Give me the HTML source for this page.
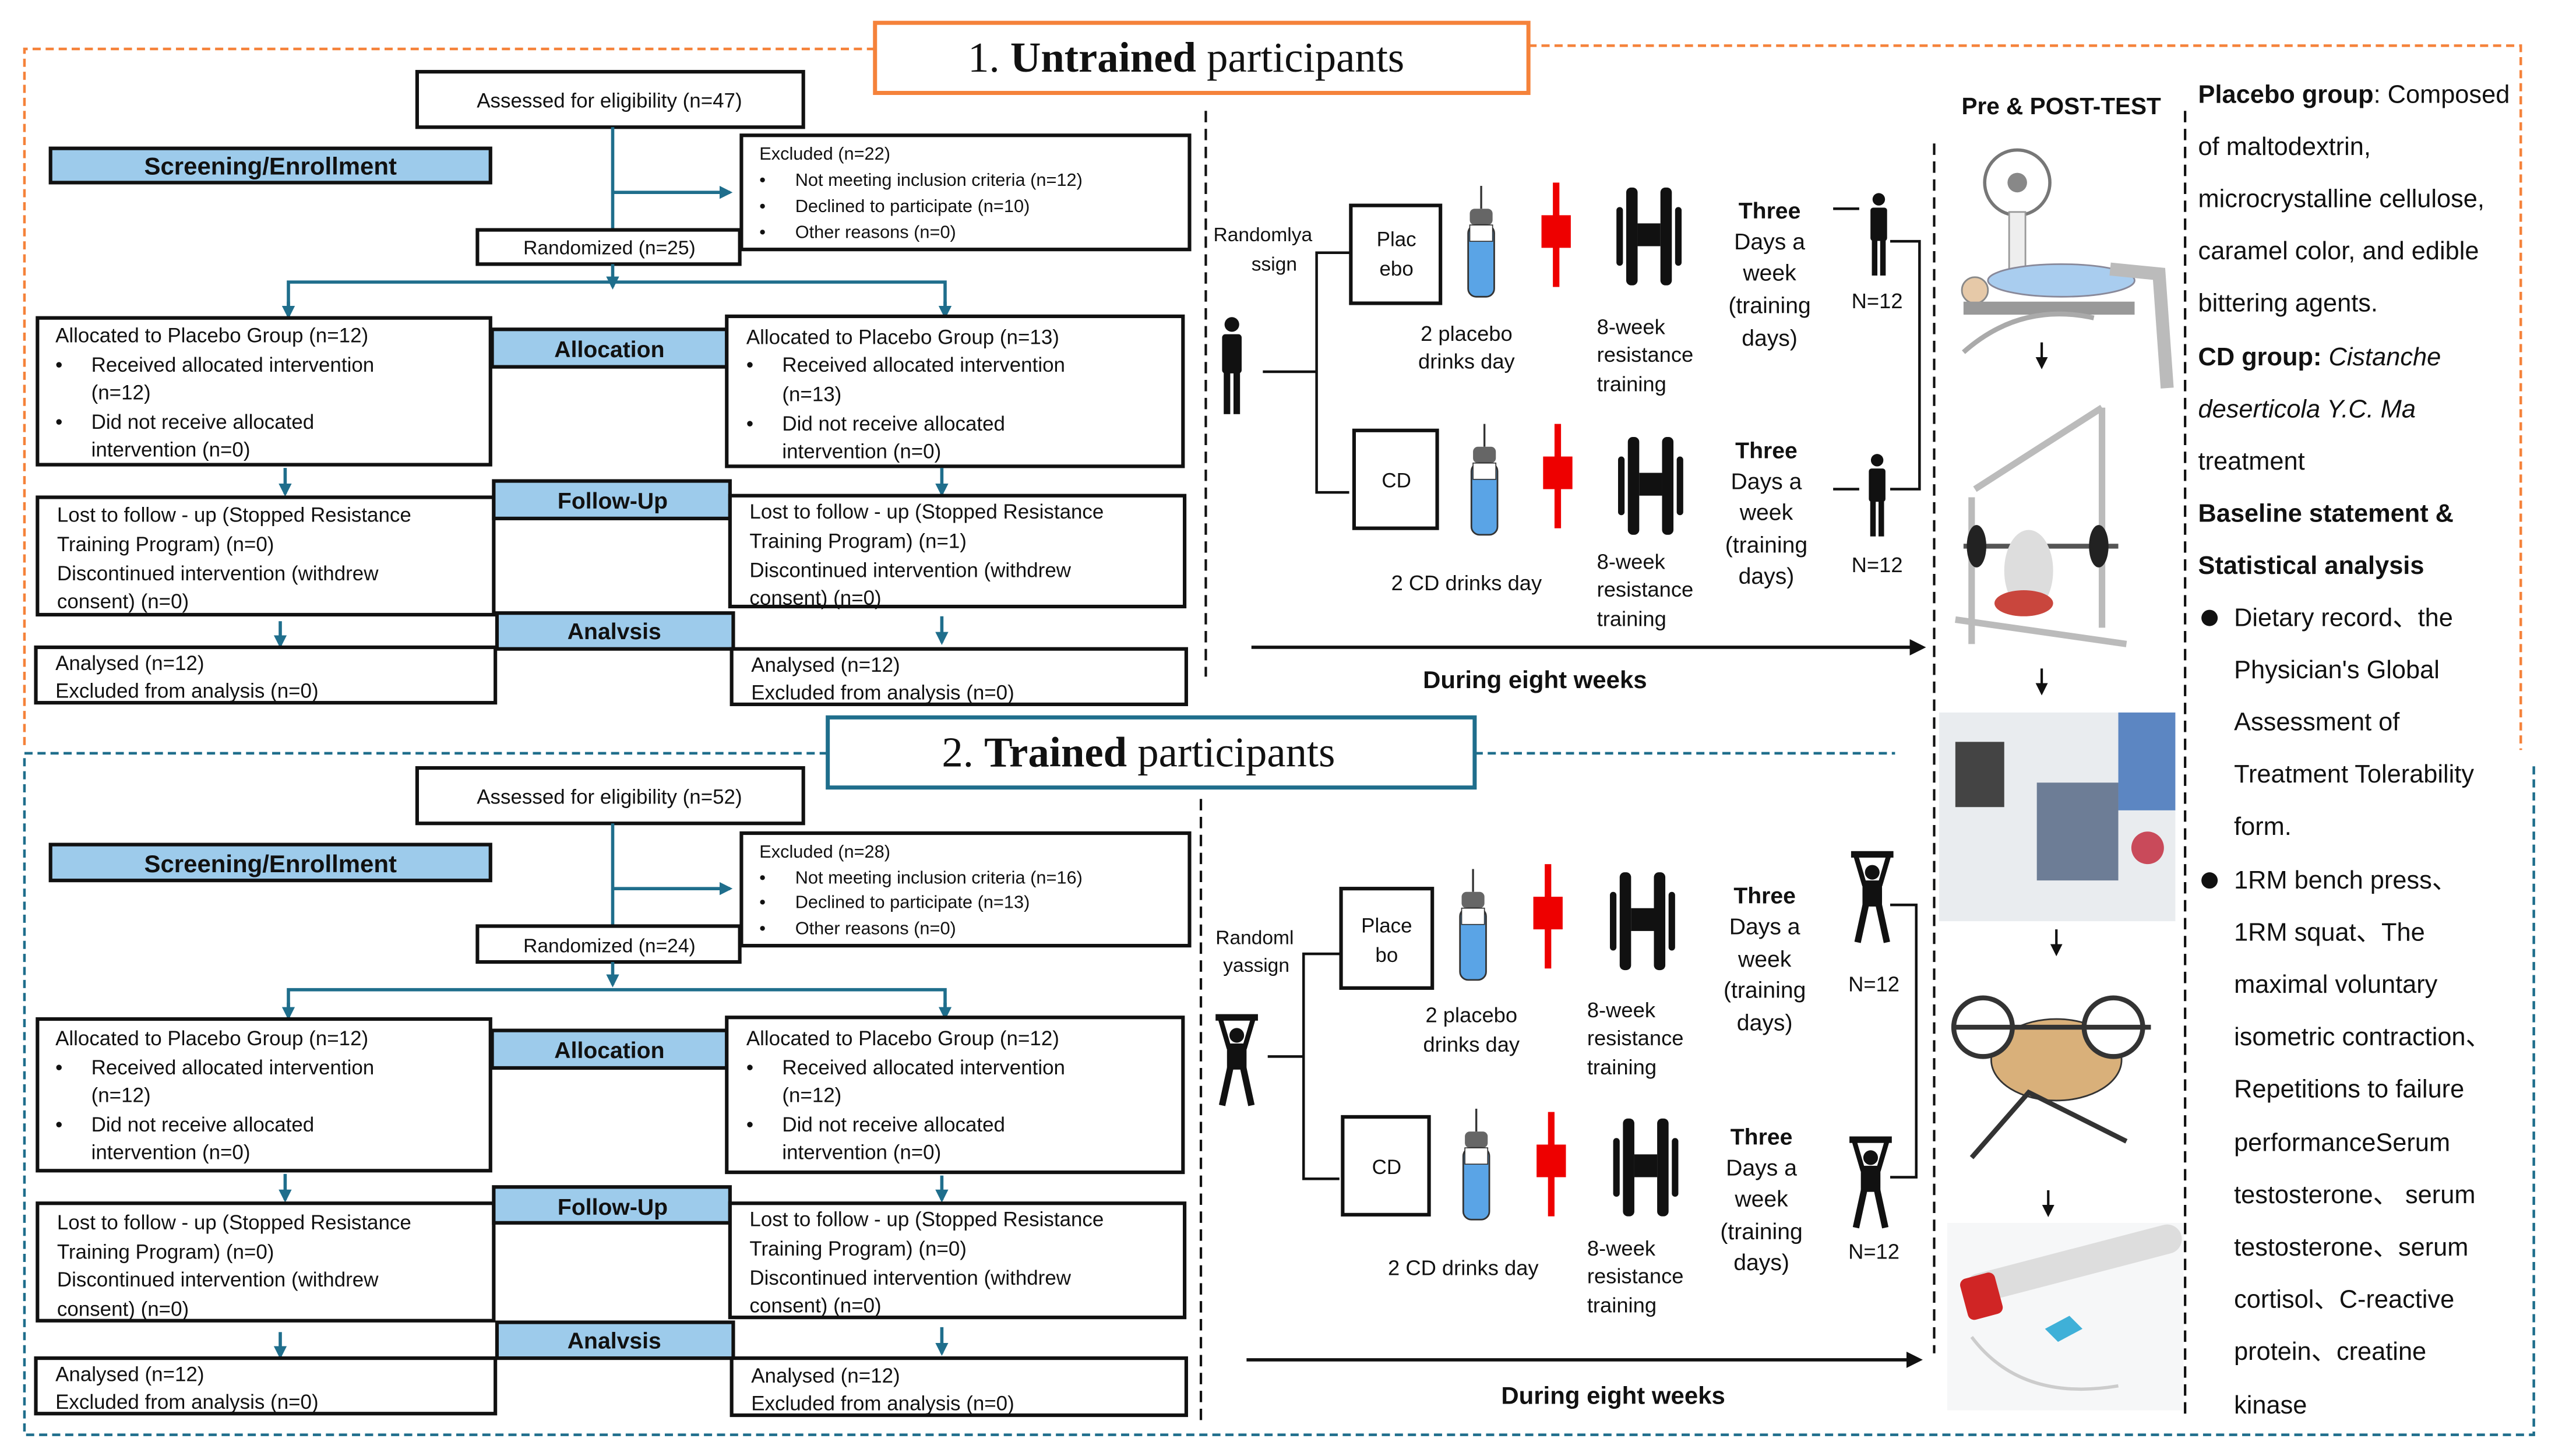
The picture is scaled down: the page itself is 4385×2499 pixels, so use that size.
<!DOCTYPE html>
<html><head><meta charset="utf-8"><style>
html,body{margin:0;padding:0;background:#fff;}
svg{display:block;}
text{font-family:"Liberation Sans Narrow","Liberation Sans",sans-serif;fill:#111;}
.t{font-size:12.5px;}
.b{font-weight:bold;}
.bar{fill:#9dcbeb;stroke:#111;stroke-width:2.2;}
.bx{fill:#fff;stroke:#111;stroke-width:2.2;}
.ln{stroke:#1f6e8c;stroke-width:2;fill:none;}
.k{stroke:#111;stroke-width:1.6;fill:none;}
.cj{font-family:"Liberation Sans","Noto Sans CJK SC",sans-serif;}
</style></head><body>
<svg width="4385" height="2499" viewBox="0 0 1568 893" preserveAspectRatio="none" xmlns="http://www.w3.org/2000/svg">
<defs>
<marker id="a" viewBox="0 0 10 10" refX="8" refY="5" markerWidth="4" markerHeight="4" orient="auto"><path d="M0,0L10,5L0,10z" fill="#1f6e8c"/></marker>
<marker id="ak" viewBox="0 0 10 10" refX="8" refY="5" markerWidth="5" markerHeight="5" orient="auto"><path d="M0,0L10,5L0,10z" fill="#111"/></marker>
<g id="person"><circle cx="0" cy="5" r="4.5" fill="#111"/><rect x="-6" y="11" width="12" height="24" rx="2" fill="#111"/><rect x="-5" y="34" width="4" height="26" fill="#111"/><rect x="1" y="34" width="4" height="26" fill="#111"/></g>
<g id="lifter"><rect x="-13" y="0" width="26" height="4" fill="#111"/><circle cx="0" cy="13" r="4.5" fill="#111"/><path d="M-10,3L-5,20L5,20L10,3" stroke="#111" stroke-width="3" fill="none"/><rect x="-6" y="18" width="12" height="16" fill="#111"/><path d="M-4,33L-9,56M4,33L9,56" stroke="#111" stroke-width="4"/></g>
<g id="bottle"><line x1="11" y1="0" x2="11" y2="14" stroke="#333" stroke-width="1.2"/><rect x="4" y="14" width="14" height="10" rx="3" fill="#666"/><rect x="3" y="24" width="16" height="44" rx="5" fill="#5aa4e6" stroke="#333" stroke-width="1"/><rect x="4" y="24" width="14" height="10" fill="#fff" stroke="#333" stroke-width="0.6"/></g>
<g id="cross"><rect x="-2" y="0" width="4" height="64" fill="#e00"/><rect x="-9" y="20" width="18" height="20" fill="#e00"/></g>
<g id="db"><rect x="0" y="12" width="4" height="36" rx="2" fill="#111"/><rect x="6" y="0" width="7" height="60" rx="3" fill="#111"/><rect x="13" y="22" width="14" height="14" fill="#111"/><rect x="27" y="0" width="7" height="60" rx="3" fill="#111"/><rect x="36" y="12" width="4" height="36" rx="2" fill="#111"/></g>
</defs>

<path d="M537,30H15V460" stroke="#f5823a" stroke-width="1.6" stroke-dasharray="5,3" fill="none"/>
<path d="M938,28H1547V460" stroke="#f5823a" stroke-width="1.6" stroke-dasharray="5,3" fill="none"/>
<rect x="537" y="14" width="401" height="43" fill="#fff" stroke="#f5823a" stroke-width="2.5"/>
<text x="594" y="44" style="font-family:'Liberation Serif',serif;font-size:26px">1.  <tspan font-weight="bold">Untrained</tspan> participants</text>

<path d="M508,462H15V880H1555V470" stroke="#1f6e8c" stroke-width="1.6" stroke-dasharray="5,3" fill="none"/>
<path d="M905,462H1163" stroke="#1f6e8c" stroke-width="1.6" stroke-dasharray="5,3" fill="none"/>
<rect x="508" y="440" width="397" height="43" fill="#fff" stroke="#1f6e8c" stroke-width="2.5"/>
<text x="578" y="470" style="font-family:'Liberation Serif',serif;font-size:26px">2.  <tspan font-weight="bold">Trained</tspan> participants</text>

<!-- TOP FLOW -->
<rect class="bx" x="256" y="44" width="237" height="34"/>
<text class="t" x="374" y="66" text-anchor="middle">Assessed for eligibility (n=47)</text>
<rect class="bar" x="31" y="91" width="270" height="21"/>
<text x="166" y="107" text-anchor="middle" class="b" font-size="15">Screening/Enrollment</text>
<line class="ln" x1="376" y1="78" x2="376" y2="141"/>
<line class="ln" x1="376" y1="118" x2="448" y2="118" marker-end="url(#a)"/>
<rect class="bx" x="455" y="83" width="275" height="70"/>
<g font-size="11">
<text x="466" y="98">Excluded (n=22)</text>
<text x="466" y="114">•</text><text x="488" y="114">Not meeting inclusion criteria (n=12)</text>
<text x="466" y="130">•</text><text x="488" y="130">Declined to participate (n=10)</text>
<text x="466" y="146">•</text><text x="488" y="146">Other reasons (n=0)</text>
</g>
<rect class="bx" x="293" y="141" width="161" height="21"/>
<text x="374" y="156" text-anchor="middle" font-size="12">Randomized (n=25)</text>
<line class="ln" x1="376" y1="162" x2="376" y2="176" marker-end="url(#a)"/>
<path class="ln" d="M177,194V173H580V194"/>
<line class="ln" x1="177" y1="185" x2="177" y2="194" marker-end="url(#a)"/>
<line class="ln" x1="580" y1="185" x2="580" y2="194" marker-end="url(#a)"/>

<rect class="bx" x="23" y="195" width="278" height="90"/>
<text class="t" x="34" y="210">Allocated to Placebo Group (n=12)</text>
<text class="t" x="34" y="228">•</text><text class="t" x="56" y="228">Received allocated intervention</text>
<text class="t" x="56" y="245">(n=12)</text>
<text class="t" x="34" y="263">•</text><text class="t" x="56" y="263">Did not receive allocated</text>
<text class="t" x="56" y="280">intervention (n=0)</text>
<rect class="bar" x="302" y="202" width="144" height="23"/>
<text x="374" y="219" text-anchor="middle" class="b" font-size="14">Allocation</text>
<rect class="bx" x="446" y="194" width="280" height="92"/>
<text class="t" x="458" y="211">Allocated to Placebo Group (n=13)</text>
<text class="t" x="458" y="228">•</text><text class="t" x="480" y="228">Received allocated intervention</text>
<text class="t" x="480" y="246">(n=13)</text>
<text class="t" x="458" y="264">•</text><text class="t" x="480" y="264">Did not receive allocated</text>
<text class="t" x="480" y="281">intervention (n=0)</text>

<line class="ln" x1="175" y1="287" x2="175" y2="303" marker-end="url(#a)"/>
<line class="ln" x1="578" y1="287" x2="578" y2="303" marker-end="url(#a)"/>
<rect class="bx" x="23" y="305" width="280" height="72"/>
<text class="t" x="35" y="320">Lost to follow - up (Stopped Resistance</text>
<text class="t" x="35" y="338">Training Program) (n=0)</text>
<text class="t" x="35" y="356">Discontinued intervention (withdrew</text>
<text class="t" x="35" y="373">consent) (n=0)</text>
<rect class="bar" x="303" y="295" width="145" height="23"/>
<text x="376" y="312" text-anchor="middle" class="b" font-size="14">Follow-Up</text>
<rect class="bx" x="448" y="304" width="279" height="68"/>
<text class="t" x="460" y="318">Lost to follow - up (Stopped Resistance</text>
<text class="t" x="460" y="336">Training Program) (n=1)</text>
<text class="t" x="460" y="354">Discontinued intervention (withdrew</text>
<text class="t" x="460" y="371">consent) (n=0)</text>
<line class="ln" x1="172" y1="381" x2="172" y2="396" marker-end="url(#a)"/>
<line class="ln" x1="578" y1="378" x2="578" y2="394" marker-end="url(#a)"/>
<rect class="bar" x="305" y="376" width="145" height="22"/>
<text x="377" y="392" text-anchor="middle" class="b" font-size="14">Analvsis</text>
<rect class="bx" x="22" y="397" width="282" height="34"/>
<text class="t" x="34" y="411">Analysed (n=12)</text>
<text class="t" x="34" y="428">Excluded from analysis (n=0)</text>
<rect class="bx" x="449" y="398" width="279" height="34"/>
<text class="t" x="461" y="412">Analysed (n=12)</text>
<text class="t" x="461" y="429">Excluded from analysis (n=0)</text>
<line x1="740" y1="68" x2="740" y2="415" stroke="#111" stroke-width="1.5" stroke-dasharray="7,4"/>

<!-- top middle -->
<text x="775" y="148" text-anchor="middle" font-size="12">Randomlya</text>
<text x="782" y="166" text-anchor="middle" font-size="12">ssign</text>
<use href="#person" x="756" y="194"/>
<path class="k" d="M775,228H808M828,155H808V302H828"/>
<rect class="bx" x="829" y="126" width="55" height="60" stroke-width="1.8"/>
<text x="857" y="151" text-anchor="middle" font-size="12.5">Plac</text>
<text x="857" y="169" text-anchor="middle" font-size="12.5">ebo</text>
<use href="#bottle" x="898" y="114"/>
<use href="#cross" x="955" y="112"/>
<use href="#db" x="992" y="115"/>
<text x="1086" y="134" text-anchor="middle" class="b" font-size="14">Three</text>
<text x="1086" y="153" text-anchor="middle" font-size="14">Days a</text>
<text x="1086" y="172" text-anchor="middle" font-size="14">week</text>
<text x="1086" y="192" text-anchor="middle" font-size="14">(training</text>
<text x="1086" y="212" text-anchor="middle" font-size="14">days)</text>
<text x="900" y="209" text-anchor="middle" font-size="13">2 placebo</text>
<text x="900" y="226" text-anchor="middle" font-size="13">drinks day</text>
<text x="980" y="205" font-size="13">8-week</text>
<text x="980" y="222" font-size="13">resistance</text>
<text x="980" y="240" font-size="13">training</text>
<line class="k" x1="1125" y1="128" x2="1141" y2="128"/>
<use href="#person" transform="translate(1153,118) scale(0.85)"/>
<text x="1152" y="189" text-anchor="middle" font-size="13">N=12</text>
<path class="k" d="M1160,148H1178V300H1160"/>
<rect class="bx" x="831" y="264" width="51" height="60" stroke-width="1.8"/>
<text x="857" y="299" text-anchor="middle" font-size="12.5">CD</text>
<use href="#bottle" x="900" y="260"/>
<use href="#cross" x="956" y="260"/>
<use href="#db" x="993" y="268"/>
<text x="1084" y="281" text-anchor="middle" class="b" font-size="14">Three</text>
<text x="1084" y="300" text-anchor="middle" font-size="14">Days a</text>
<text x="1084" y="319" text-anchor="middle" font-size="14">week</text>
<text x="1084" y="339" text-anchor="middle" font-size="14">(training</text>
<text x="1084" y="358" text-anchor="middle" font-size="14">days)</text>
<text x="900" y="362" text-anchor="middle" font-size="13">2 CD drinks day</text>
<text x="980" y="349" font-size="13">8-week</text>
<text x="980" y="366" font-size="13">resistance</text>
<text x="980" y="384" font-size="13">training</text>
<line class="k" x1="1125" y1="300" x2="1141" y2="300"/>
<use href="#person" transform="translate(1152,278) scale(0.85)"/>
<text x="1152" y="351" text-anchor="middle" font-size="13">N=12</text>
<line x1="768" y1="397" x2="1180" y2="397" stroke="#111" stroke-width="2" marker-end="url(#ak)"/>
<text x="942" y="422" text-anchor="middle" class="b" font-size="15">During eight weeks</text>

<!-- BOTTOM FLOW -->
<rect class="bx" x="256" y="471" width="237" height="34"/>
<text class="t" x="374" y="493" text-anchor="middle">Assessed for eligibility (n=52)</text>
<rect class="bar" x="31" y="518" width="270" height="22"/>
<text x="166" y="535" text-anchor="middle" class="b" font-size="15">Screening/Enrollment</text>
<line class="ln" x1="376" y1="505" x2="376" y2="568"/>
<line class="ln" x1="376" y1="545" x2="448" y2="545" marker-end="url(#a)"/>
<rect class="bx" x="455" y="511" width="275" height="69"/>
<g font-size="11">
<text x="466" y="526">Excluded (n=28)</text>
<text x="466" y="542">•</text><text x="488" y="542">Not meeting inclusion criteria (n=16)</text>
<text x="466" y="557">•</text><text x="488" y="557">Declined to participate (n=13)</text>
<text x="466" y="573">•</text><text x="488" y="573">Other reasons (n=0)</text>
</g>
<rect class="bx" x="293" y="568" width="161" height="22"/>
<text x="374" y="584" text-anchor="middle" font-size="12">Randomized (n=24)</text>
<line class="ln" x1="376" y1="590" x2="376" y2="604" marker-end="url(#a)"/>
<path class="ln" d="M177,624V607H580V624"/>
<line class="ln" x1="177" y1="615" x2="177" y2="624" marker-end="url(#a)"/>
<line class="ln" x1="580" y1="615" x2="580" y2="624" marker-end="url(#a)"/>
<rect class="bx" x="23" y="625" width="278" height="93"/>
<text class="t" x="34" y="641">Allocated to Placebo Group (n=12)</text>
<text class="t" x="34" y="659">•</text><text class="t" x="56" y="659">Received allocated intervention</text>
<text class="t" x="56" y="676">(n=12)</text>
<text class="t" x="34" y="694">•</text><text class="t" x="56" y="694">Did not receive allocated</text>
<text class="t" x="56" y="711">intervention (n=0)</text>
<rect class="bar" x="302" y="632" width="144" height="23"/>
<text x="374" y="649" text-anchor="middle" class="b" font-size="14">Allocation</text>
<rect class="bx" x="446" y="624" width="280" height="95"/>
<text class="t" x="458" y="641">Allocated to Placebo Group (n=12)</text>
<text class="t" x="458" y="659">•</text><text class="t" x="480" y="659">Received allocated intervention</text>
<text class="t" x="480" y="676">(n=12)</text>
<text class="t" x="458" y="694">•</text><text class="t" x="480" y="694">Did not receive allocated</text>
<text class="t" x="480" y="711">intervention (n=0)</text>
<line class="ln" x1="175" y1="720" x2="175" y2="736" marker-end="url(#a)"/>
<line class="ln" x1="578" y1="721" x2="578" y2="736" marker-end="url(#a)"/>
<rect class="bx" x="23" y="738" width="280" height="72"/>
<text class="t" x="35" y="754">Lost to follow - up (Stopped Resistance</text>
<text class="t" x="35" y="772">Training Program) (n=0)</text>
<text class="t" x="35" y="789">Discontinued intervention (withdrew</text>
<text class="t" x="35" y="807">consent) (n=0)</text>
<rect class="bar" x="303" y="728" width="145" height="22"/>
<text x="376" y="745" text-anchor="middle" class="b" font-size="14">Follow-Up</text>
<rect class="bx" x="448" y="738" width="279" height="70"/>
<text class="t" x="460" y="752">Lost to follow - up (Stopped Resistance</text>
<text class="t" x="460" y="770">Training Program) (n=0)</text>
<text class="t" x="460" y="788">Discontinued intervention (withdrew</text>
<text class="t" x="460" y="805">consent) (n=0)</text>
<line class="ln" x1="172" y1="817" x2="172" y2="832" marker-end="url(#a)"/>
<line class="ln" x1="578" y1="814" x2="578" y2="830" marker-end="url(#a)"/>
<rect class="bar" x="305" y="811" width="145" height="22"/>
<text x="377" y="827" text-anchor="middle" class="b" font-size="14">Analvsis</text>
<rect class="bx" x="22" y="833" width="282" height="34"/>
<text class="t" x="34" y="847">Analysed (n=12)</text>
<text class="t" x="34" y="864">Excluded from analysis (n=0)</text>
<rect class="bx" x="449" y="833" width="279" height="35"/>
<text class="t" x="461" y="848">Analysed (n=12)</text>
<text class="t" x="461" y="865">Excluded from analysis (n=0)</text>
<line x1="737" y1="490" x2="737" y2="875" stroke="#111" stroke-width="1.5" stroke-dasharray="7,4"/>

<text x="770" y="579" text-anchor="middle" font-size="12">Randoml</text>
<text x="771" y="596" text-anchor="middle" font-size="12">yassign</text>
<use href="#lifter" x="759" y="622"/>
<path class="k" d="M778,648H800M822,585H800V723H822"/>
<rect class="bx" x="823" y="545" width="56" height="61" stroke-width="1.8"/>
<text x="851" y="572" text-anchor="middle" font-size="12.5">Place</text>
<text x="851" y="590" text-anchor="middle" font-size="12.5">bo</text>
<use href="#bottle" x="893" y="533"/>
<use href="#cross" x="950" y="530"/>
<use href="#db" x="988" y="535"/>
<text x="1083" y="554" text-anchor="middle" class="b" font-size="14">Three</text>
<text x="1083" y="573" text-anchor="middle" font-size="14">Days a</text>
<text x="1083" y="593" text-anchor="middle" font-size="14">week</text>
<text x="1083" y="612" text-anchor="middle" font-size="14">(training</text>
<text x="1083" y="632" text-anchor="middle" font-size="14">days)</text>
<text x="903" y="627" text-anchor="middle" font-size="13">2 placebo</text>
<text x="903" y="645" text-anchor="middle" font-size="13">drinks day</text>
<text x="974" y="624" font-size="13">8-week</text>
<text x="974" y="641" font-size="13">resistance</text>
<text x="974" y="659" font-size="13">training</text>
<use href="#lifter" x="1149" y="522"/>
<text x="1150" y="608" text-anchor="middle" font-size="13">N=12</text>
<path class="k" d="M1160,555H1176V722H1160"/>
<rect class="bx" x="824" y="685" width="53" height="60" stroke-width="1.8"/>
<text x="851" y="720" text-anchor="middle" font-size="12.5">CD</text>
<use href="#bottle" x="895" y="680"/>
<use href="#cross" x="952" y="682"/>
<use href="#db" x="990" y="686"/>
<text x="1081" y="702" text-anchor="middle" class="b" font-size="14">Three</text>
<text x="1081" y="721" text-anchor="middle" font-size="14">Days a</text>
<text x="1081" y="740" text-anchor="middle" font-size="14">week</text>
<text x="1081" y="760" text-anchor="middle" font-size="14">(training</text>
<text x="1081" y="779" text-anchor="middle" font-size="14">days)</text>
<text x="898" y="782" text-anchor="middle" font-size="13">2 CD drinks day</text>
<text x="974" y="770" font-size="13">8-week</text>
<text x="974" y="787" font-size="13">resistance</text>
<text x="974" y="805" font-size="13">training</text>
<use href="#lifter" x="1148" y="697"/>
<text x="1150" y="772" text-anchor="middle" font-size="13">N=12</text>
<line x1="765" y1="834" x2="1178" y2="834" stroke="#111" stroke-width="2" marker-end="url(#ak)"/>
<text x="990" y="861" text-anchor="middle" class="b" font-size="15">During eight weeks</text>

<!-- Pre/post column -->
<line x1="1187" y1="88" x2="1187" y2="830" stroke="#111" stroke-width="1.5" stroke-dasharray="7,4"/>
<line x1="1341" y1="68" x2="1341" y2="870" stroke="#111" stroke-width="1.5" stroke-dasharray="7,4"/>
<text x="1265" y="70" text-anchor="middle" class="b" font-size="14.5">Pre &amp; POST-TEST</text>
<g>
<circle cx="1238" cy="112" r="20" fill="#fff" stroke="#777" stroke-width="2"/><circle cx="1238" cy="112" r="6" fill="#888"/>
<rect x="1233" y="130" width="10" height="45" fill="#eee" stroke="#999"/>
<ellipse cx="1265" cy="172" rx="45" ry="10" fill="#a9cdef" stroke="#889"/>
<circle cx="1212" cy="178" r="8" fill="#e6c9a8" stroke="#888"/>
<path d="M1295,165L1325,168L1330,238" stroke="#bbb" stroke-width="8" fill="none"/>
<rect x="1205" y="185" width="105" height="8" fill="#999"/>
<path d="M1205,216Q1240,185 1285,195" stroke="#aaa" stroke-width="3" fill="none"/>
</g>
<line x1="1253" y1="210" x2="1253" y2="225" stroke="#111" stroke-width="1.5" marker-end="url(#ak)"/>
<g stroke="#bbb" stroke-width="4" fill="none">
<path d="M1210,305V395M1290,250V385M1212,300L1290,250"/>
<path d="M1200,380L1305,395"/>
</g>
<line x1="1205" y1="335" x2="1300" y2="335" stroke="#555" stroke-width="3"/>
<ellipse cx="1213" cy="335" rx="6" ry="13" fill="#222"/><ellipse cx="1288" cy="335" rx="6" ry="13" fill="#222"/>
<ellipse cx="1245" cy="350" rx="15" ry="25" fill="#ddd"/>
<ellipse cx="1242" cy="370" rx="18" ry="8" fill="#c9463d"/>
<line x1="1253" y1="410" x2="1253" y2="425" stroke="#111" stroke-width="1.5" marker-end="url(#ak)"/>
<rect x="1190" y="437" width="145" height="128" fill="#e9ecef"/>
<rect x="1200" y="455" width="30" height="40" fill="#444"/>
<rect x="1300" y="437" width="35" height="60" fill="#5c86c2"/>
<rect x="1250" y="480" width="50" height="60" fill="#6d7d96"/>
<circle cx="1318" cy="520" r="10" fill="#c94a5a"/>
<line x1="1262" y1="570" x2="1262" y2="585" stroke="#111" stroke-width="1.5" marker-end="url(#ak)"/>
<ellipse cx="1262" cy="650" rx="40" ry="25" fill="#d9b07a" stroke="#333"/>
<circle cx="1217" cy="630" r="18" fill="#fff" stroke="#333" stroke-width="3"/>
<circle cx="1297" cy="630" r="18" fill="#fff" stroke="#333" stroke-width="3"/>
<line x1="1200" y1="630" x2="1320" y2="630" stroke="#333" stroke-width="3"/>
<path d="M1210,710L1245,670L1305,700" stroke="#333" stroke-width="3" fill="none"/>
<line x1="1257" y1="730" x2="1257" y2="745" stroke="#111" stroke-width="1.5" marker-end="url(#ak)"/>
<rect x="1195" y="750" width="145" height="115" fill="#f6f7f8"/>
<path d="M1215,790L1330,760" stroke="#ddd" stroke-width="18" stroke-linecap="round"/>
<rect x="1205" y="782" width="22" height="26" rx="4" fill="#d02525" transform="rotate(-15 1216 795)"/>
<path d="M1255,815l15,-8l8,8l-15,8z" fill="#3fb0d8"/>
<path d="M1210,820Q1240,860 1300,850" stroke="#ccc" stroke-width="2" fill="none"/>

<!-- right text -->
<g font-size="15.5">
<text x="1349" y="63"><tspan font-weight="bold">Placebo group</tspan>: Composed</text>
<text x="1349" y="95">of maltodextrin,</text>
<text x="1349" y="127">microcrystalline cellulose,</text>
<text x="1349" y="159">caramel color, and edible</text>
<text x="1349" y="191">bittering agents.</text>
<text x="1349" y="224"><tspan font-weight="bold">CD group:</tspan> <tspan font-style="italic">Cistanche</tspan></text>
<text x="1349" y="256" font-style="italic">deserticola Y.C. Ma</text>
<text x="1349" y="288">treatment</text>
<text x="1349" y="320" font-weight="bold">Baseline statement &amp;</text>
<text x="1349" y="352" font-weight="bold">Statistical analysis</text>
<circle cx="1356" cy="379" r="5" fill="#111"/>
<text x="1371" y="384" class="cj">Dietary record、the</text>
<text x="1371" y="416">Physician's Global</text>
<text x="1371" y="448">Assessment of</text>
<text x="1371" y="480">Treatment Tolerability</text>
<text x="1371" y="512">form.</text>
<circle cx="1356" cy="540" r="5" fill="#111"/>
<text x="1371" y="545" class="cj">1RM bench press、</text>
<text x="1371" y="577" class="cj">1RM squat、The</text>
<text x="1371" y="609">maximal voluntary</text>
<text x="1371" y="641" class="cj">isometric contraction、</text>
<text x="1371" y="673">Repetitions to failure</text>
<text x="1371" y="706">performanceSerum</text>
<text x="1371" y="738" class="cj">testosterone、 serum</text>
<text x="1371" y="770" class="cj">testosterone、serum</text>
<text x="1371" y="802" class="cj">cortisol、C-reactive</text>
<text x="1371" y="834" class="cj">protein、creatine</text>
<text x="1371" y="867">kinase</text>
</g>
</svg>
</body></html>
